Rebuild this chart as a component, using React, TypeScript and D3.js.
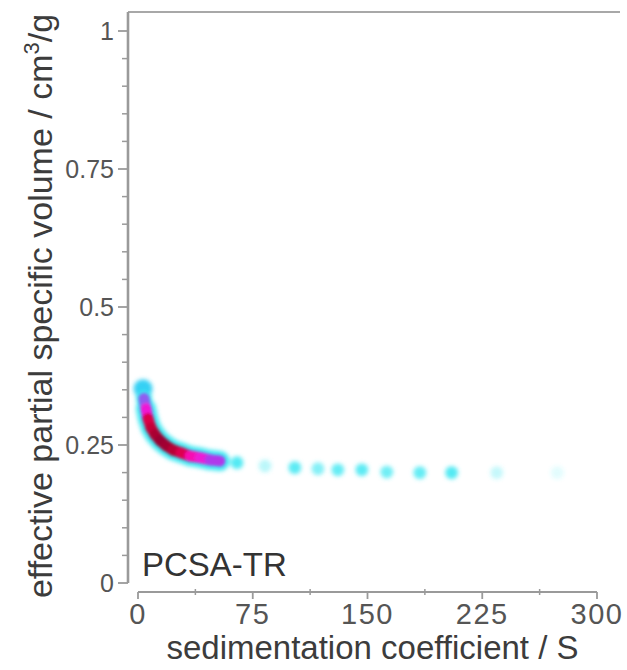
import React from "react";
import * as d3 from "d3";

// sedimentation coefficient (S) and effective partial specific volume (cm^3/g)
const sedCoeff = [3.3, 3.9, 5.2, 6.5, 8.5, 11.1, 14.4, 18.3, 22.9, 28.1, 34, 40.5, 47, 53.5, 64.7, 83, 102.5, 117.6, 130.6, 146.3, 162.6, 184.2, 205, 234.5, 274];
const effVolume = [0.352, 0.334, 0.316, 0.298, 0.281, 0.269, 0.258, 0.249, 0.241, 0.236, 0.23, 0.227, 0.223, 0.221, 0.218, 0.212, 0.209, 0.207, 0.205, 0.205, 0.201, 0.2, 0.2, 0.2, 0.2];
// local point density (0 = sparse / cyan, 1 = densest / dark red)
const density = [0, 0.15, 0.35, 0.75, 0.82, 0.9, 1, 1, 0.95, 0.85, 0.7, 0.58, 0.5, 0.2, 0, 0, 0, 0, 0, 0, 0, 0, 0, 0, 0];
// relative signal strength of each species
const intensity = [1, 0.9, 1, 1, 1, 1, 1, 1, 1, 1, 1, 1, 1, 1, 0.9, 0.35, 0.85, 0.65, 0.8, 0.85, 0.75, 0.8, 0.9, 0.3, 0.15];
// number of species that form the continuous band at low S
const bandLength = 14;

const xTicks = [0, 75, 150, 225, 300];
const xMinor = [37.5, 112.5, 187.5, 262.5];
const yTicks = [0, 0.25, 0.5, 0.75, 1];
const yTickLabels = ["0", "0.25", "0.5", "0.75", "1"];
const yMinor = [0.05, 0.1, 0.15, 0.2, 0.3, 0.35, 0.4, 0.45, 0.55, 0.6, 0.65, 0.7, 0.8, 0.85, 0.9, 0.95];

const xTitle = "sedimentation coefficient / S";
const panelLabel = "PCSA-TR";

export default function App() {
  const x = d3.scaleLinear().domain([0, 300]).range([138, 597]);
  const y = d3.scaleLinear().domain([0, 1]).range([583, 31]);
  const coreColor = d3
    .scaleLinear<string>()
    .domain([0, 0.3, 0.6, 0.8, 1])
    .range(["#40e6f2", "#a040f0", "#ff10d0", "#d8003c", "#9a0030"]);

  const axisColor = "#9a9a9a";
  const font = "Liberation Sans, Arial, sans-serif";
  const axisX = 128;
  const axisY = 592;

  const idx = d3.range(sedCoeff.length);
  const bandIdx = idx.slice(0, bandLength - 1);

  return (
    <svg width={627} height={670} style={{ position: "absolute", left: 0, top: 0, background: "#fff" }}>
      <defs>
        <filter id="blur" x="-50%" y="-50%" width="200%" height="200%">
          <feGaussianBlur stdDeviation="2.2" />
        </filter>
        <filter id="blur2" x="-50%" y="-50%" width="200%" height="200%">
          <feGaussianBlur stdDeviation="1.8" />
        </filter>
      </defs>

      {/* frame */}
      <line x1={axisX} x2={620} y1={12} y2={12} stroke="#a8a8a8" strokeWidth={2.2} />
      <line x1={axisX} x2={axisX} y1={12} y2={583} stroke={axisColor} strokeWidth={2.6} />
      <line x1={x(0)} x2={x(300)} y1={axisY} y2={axisY} stroke={axisColor} strokeWidth={2.2} />

      {/* y ticks */}
      {yTicks.map((t, i) => (
        <g key={"yt" + t}>
          <line x1={axisX - 10} x2={axisX} y1={y(t)} y2={y(t)} stroke={axisColor} strokeWidth={1.8} />
          <text x={axisX - 14} y={y(t) + 8.5} fontSize={25} fontFamily={font} fill="#555" textAnchor="end">
            {yTickLabels[i]}
          </text>
        </g>
      ))}
      {yMinor.map((t) => (
        <line key={"ym" + t} x1={axisX - 6} x2={axisX} y1={y(t)} y2={y(t)} stroke={axisColor} strokeWidth={1.5} />
      ))}

      {/* x ticks */}
      {xTicks.map((t) => (
        <g key={"xt" + t}>
          <line x1={x(t)} x2={x(t)} y1={axisY} y2={axisY + 7} stroke={axisColor} strokeWidth={1.8} />
          <text x={x(t)} y={624} fontSize={29} fontFamily={font} fill="#555" textAnchor="middle" letterSpacing={1.5}>
            {t}
          </text>
        </g>
      ))}
      {xMinor.map((t) => (
        <line key={"xm" + t} x1={x(t)} x2={x(t)} y1={axisY - 3} y2={axisY + 3} stroke={axisColor} strokeWidth={1.5} />
      ))}

      {/* titles */}
      <text x={(x(0) + x(300)) / 2 + 5} y={659} fontSize={33} fontFamily={font} fill="#3c3c3c" textAnchor="middle">
        {xTitle}
      </text>
      <text
        transform={`translate(52,306) rotate(-90)`}
        fontSize={34}
        fontFamily={font}
        fill="#3c3c3c"
        textAnchor="middle"
      >
        effective partial specific volume / cm
        <tspan fontSize={22} dy={-13}>3</tspan>
        <tspan dy={13}>/g</tspan>
      </text>
      <text x={142} y={576} fontSize={33} fontFamily={font} fill="#333">
        {panelLabel}
      </text>

      {/* data: cyan halo */}
      <g filter="url(#blur)">
        {bandIdx.map((i) => (
          <line
            key={"hb" + i}
            x1={x(sedCoeff[i])}
            y1={y(effVolume[i])}
            x2={x(sedCoeff[i + 1])}
            y2={y(effVolume[i + 1])}
            stroke="#40e8f2"
            strokeWidth={i < 2 ? 15 : 20}
            strokeLinecap="round"
          />
        ))}
        {idx.map((i) => (
          <circle
            key={"h" + i}
            cx={x(sedCoeff[i])}
            cy={y(effVolume[i])}
            r={i === 0 ? 9.5 : i < bandLength ? 8 : 6.4}
            fill={i === 0 ? "#34d0f4" : "#40e8f2"}
            opacity={intensity[i]}
          />
        ))}
      </g>
      {/* data: density core */}
      <g filter="url(#blur2)">
        {bandIdx.map((i) =>
          density[i] > 0.1 && density[i + 1] > 0.1 ? (
            <line
              key={"cb" + i}
              x1={x(sedCoeff[i])}
              y1={y(effVolume[i])}
              x2={x(sedCoeff[i + 1])}
              y2={y(effVolume[i + 1])}
              stroke={coreColor((density[i] + density[i + 1]) / 2)}
              strokeWidth={11}
              strokeLinecap="round"
            />
          ) : null
        )}
      </g>
    </svg>
  );
}
